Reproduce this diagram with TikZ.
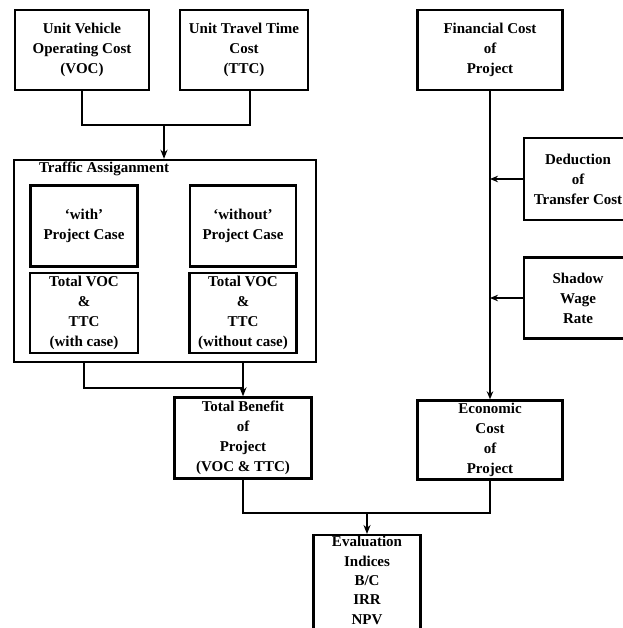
\documentclass[tikz,border=0pt]{standalone}
\usepackage{fontspec}
\setmainfont{Liberation Serif}
\usetikzlibrary{arrows.meta,positioning}

\begin{document}
\begin{tikzpicture}[
    x=1pt, y=-1pt,
    font=\fontsize{15}{20}\selectfont\bfseries,
    box/.style={draw, line width=2.4pt, align=center, inner sep=0pt, minimum height=80pt},
    frame/.style={draw, line width=2.4pt, inner sep=0pt},
    link/.style={line width=1.4pt},
    arrow/.style={-{Stealth[length=9pt,width=7pt]}, line width=2pt},
    sidearrow/.style={-{Stealth[length=8pt,width=6.5pt]}, line width=1.4pt}
]
\useasboundingbox (0,0) rectangle (622,628);

% input costs
\node[box, minimum width=134pt] (voc) at (82,50) {Unit Vehicle\\Operating Cost\\(VOC)};
\node[box, minimum width=128pt] (ttc) at (244,50) {Unit Travel Time\\Cost\\(TTC)};
\node[box, minimum width=145pt] (fin) at (490,50) {Financial Cost\\of\\Project};

% traffic assignment block
\node[frame, minimum width=302pt, minimum height=202pt] (traffic) at (165,261) {};
\node[anchor=north west, inner sep=0pt] (traffictitle) at ([xshift=26pt,yshift=-3pt]traffic.north west) {Traffic Assiganment};
\node[box, minimum width=107pt, minimum height=81pt] (with) at (84,226) {`with'\\Project Case};
\node[box, minimum width=106pt, minimum height=81pt] (without) at (243,226) {`without'\\Project Case};
\node[box, minimum width=108pt] (totwith) at (84,313) {Total VOC\\\&\\TTC\\(with case)};
\node[box, minimum width=107pt] (totwithout) at (243,313) {Total VOC\\\&\\TTC\\(without case)};

% adjustments to cost
\node[box, minimum width=108pt, minimum height=82pt] (deduct) at (578,179) {Deduction\\of\\Transfer Cost};
\node[box, minimum width=108pt, minimum height=81pt] (shadow) at (578,298) {Shadow\\Wage\\Rate};

% benefit and cost
\node[box, minimum width=137pt, minimum height=81pt] (benefit) at (243,438) {Total Benefit\\of\\Project\\(VOC \& TTC)};
\node[box, minimum width=145pt, minimum height=79pt] (econ) at (490,440) {Economic\\Cost\\of\\Project};
\node[box, minimum width=107pt, minimum height=110pt, anchor=north, inner ysep=1pt,
      font=\fontsize{15}{19.4}\selectfont\bfseries] (eval) at (367,534) {Evaluation\\Indices\\B/C\\IRR\\NPV\\[12pt]};

% connectors
\coordinate (merge1) at (164,125);
\coordinate (merge2) at (243,388);
\coordinate (merge3) at (367,513);
\draw[link] (voc.south) |- (merge1) -| ([xshift=6pt]ttc.south);
\draw[arrow] (merge1) -- (traffic.north -| merge1);
\draw[link] (traffic.south -| totwith) |- (merge2);
\draw[arrow] (traffic.south -| benefit) -- (benefit.north);
\draw[link] (benefit.south) |- (merge3) -| (econ.south);
\draw[arrow] (merge3) -- (eval.north);
\draw[sidearrow] (fin.south) -- (econ.north);
\draw[sidearrow] (deduct.west) -- (deduct.west -| fin.south);
\draw[sidearrow] (shadow.west) -- (shadow.west -| fin.south);
\end{tikzpicture}
\end{document}
